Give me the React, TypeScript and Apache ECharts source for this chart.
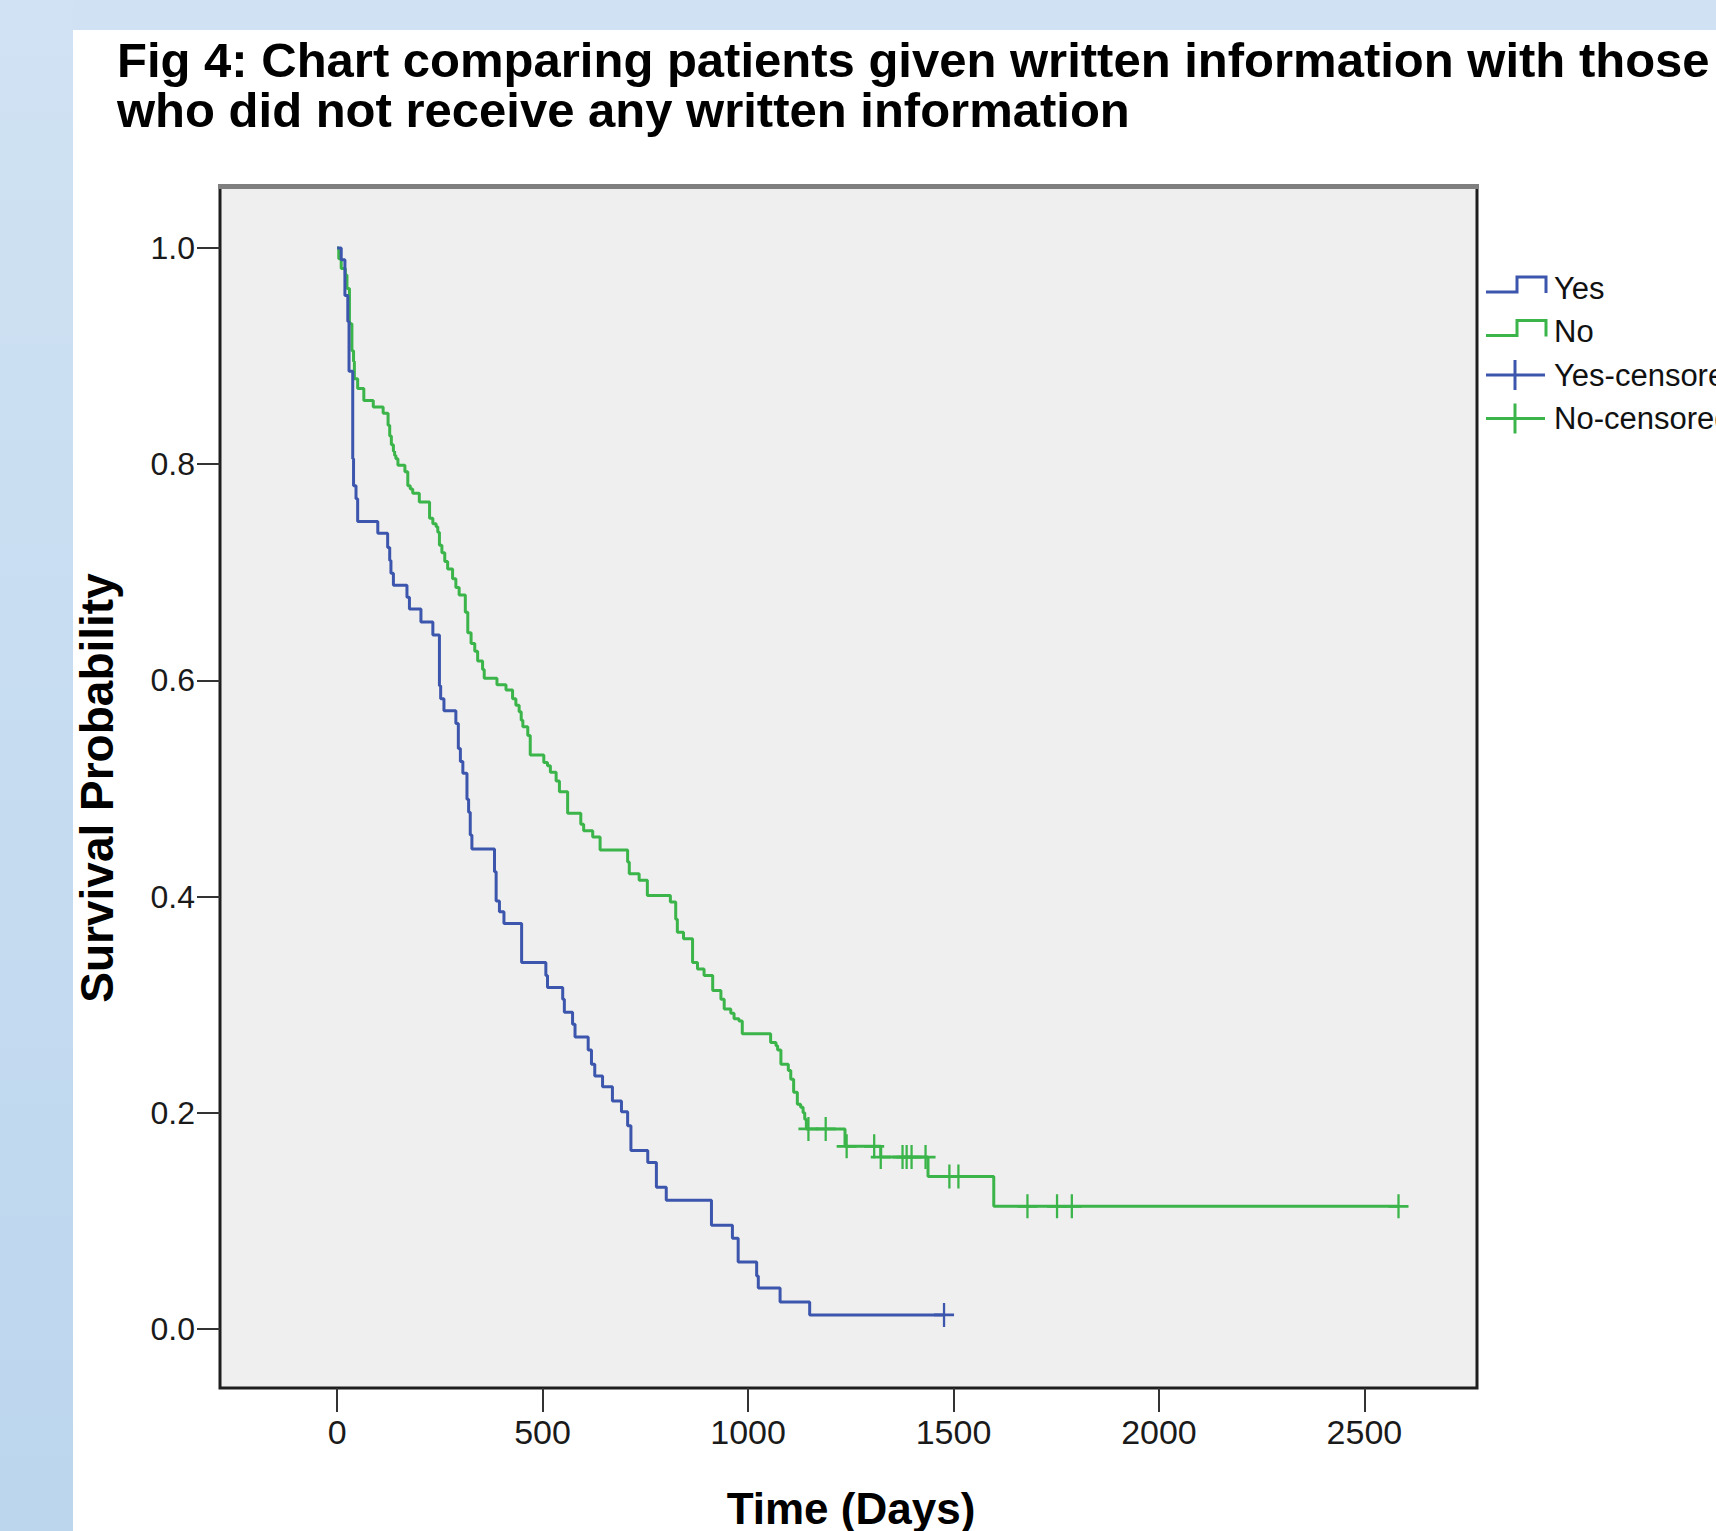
import React, { useEffect, useRef } from "react";
import * as echarts from "echarts";

// ---------- data ----------
const titleLines = [
  "Fig 4: Chart comparing patients given written information with those",
  "who did not receive any written information",
];
const xAxisTitle = "Time (Days)";
const yAxisTitle = "Survival Probability";
const legendLabels = ["Yes", "No", "Yes-censored", "No-censored"];

const xTicks = [0, 500, 1000, 1500, 2000, 2500];
const yTicks = [0, 0.2, 0.4, 0.6, 0.8, 1.0];

const yesDays = [
  0, 10, 19, 26, 29, 38, 40, 46, 50, 99, 123, 128, 131, 137, 170, 176, 204, 233, 249, 252, 260, 289, 295,
  300, 306, 316, 320, 324, 328, 383, 387, 395, 406, 449, 508, 512, 549, 553, 573, 579, 611, 619, 627, 646,
  670, 692, 707, 715, 756, 777, 801, 911, 962, 976, 1021, 1025, 1078, 1150, 1477,
];
const yesSurvival = [
  1.0, 0.989, 0.956, 0.932, 0.886, 0.805, 0.78, 0.768, 0.747, 0.736, 0.723, 0.711, 0.699, 0.688, 0.677,
  0.666, 0.654, 0.642, 0.595, 0.583, 0.572, 0.56, 0.537, 0.525, 0.514, 0.49, 0.478, 0.457, 0.444, 0.423,
  0.396, 0.386, 0.375, 0.339, 0.327, 0.316, 0.305, 0.293, 0.282, 0.27, 0.258, 0.245, 0.234, 0.224, 0.211,
  0.201, 0.188, 0.165, 0.154, 0.131, 0.119, 0.096, 0.084, 0.062, 0.049, 0.038, 0.025, 0.013, 0.013,
];

const noDays = [
  0, 4, 10, 20, 24, 30, 36, 40, 42, 50, 65, 88, 112, 124, 128, 132, 137, 140, 143, 148, 165, 172, 178, 184,
  200, 225, 233, 241, 245, 249, 255, 262, 269, 281, 289, 297, 312, 318, 326, 335, 342, 354, 358, 389, 411,
  427, 435, 443, 448, 452, 464, 470, 503, 512, 519, 533, 541, 561, 593, 600, 622, 640, 707, 711, 735, 755,
  811, 824, 828, 843, 865, 877, 893, 914, 934, 942, 958, 966, 978, 986, 1055, 1068, 1072, 1080, 1098, 1104,
  1111, 1120, 1128, 1134, 1138, 1142, 1236, 1323, 1438, 1598, 2583,
];
const noSurvival = [
  1.0, 0.99, 0.981, 0.975, 0.9625, 0.93, 0.905, 0.895, 0.879, 0.87, 0.859, 0.853, 0.847, 0.836, 0.826,
  0.818, 0.812, 0.808, 0.805, 0.799, 0.793, 0.78, 0.777, 0.773, 0.765, 0.75, 0.745, 0.742, 0.737, 0.725,
  0.718, 0.71, 0.703, 0.694, 0.686, 0.679, 0.663, 0.644, 0.634, 0.627, 0.618, 0.61, 0.602, 0.596, 0.591,
  0.583, 0.577, 0.571, 0.563, 0.557, 0.549, 0.531, 0.524, 0.521, 0.515, 0.507, 0.497, 0.477, 0.467, 0.461,
  0.455, 0.443, 0.432, 0.421, 0.415, 0.401, 0.395, 0.379, 0.367, 0.361, 0.339, 0.333, 0.327, 0.313, 0.305,
  0.296, 0.292, 0.287, 0.285, 0.273, 0.265, 0.262, 0.258, 0.245, 0.239, 0.231, 0.219, 0.208, 0.205, 0.2,
  0.194, 0.185, 0.169, 0.159, 0.141, 0.1135, 0.1135,
];

const yesCensoredDays = [1477];
const yesCensoredSurvival = [0.013];

const noCensoredDays = [1147, 1189, 1240, 1307, 1323, 1376, 1386, 1398, 1432, 1490, 1512, 1680, 1752, 1788, 2583];
const noCensoredSurvival = [
  0.185, 0.185, 0.169, 0.169, 0.159, 0.159, 0.159, 0.159, 0.159, 0.141, 0.141, 0.1135, 0.1135, 0.1135, 0.1135,
];

// ---------- styling ----------
const BLUE = "#3d56ad";
const GREEN = "#3bb54a";
const FONT = '"Liberation Sans", Arial, Helvetica, sans-serif';
const PLUS = "path://M0,12L20,12M10,0L10,24";

const zip = (a: number[], b: number[]) => a.map((v, i) => [v, b[i]]);

export default function App() {
  const ref = useRef<HTMLDivElement>(null);

  useEffect(() => {
    if (!ref.current) return;
    const chart = echarts.init(ref.current, null, { renderer: "svg", width: 1716, height: 1531 });

    const legendX = 1486;
    const legendY0 = 288;
    const legendStep = 43.5;
    const legendGraphics: any[] = [];
    legendLabels.forEach((label, i) => {
      const cy = legendY0 + i * legendStep;
      const color = i % 2 === 0 ? BLUE : GREEN;
      if (i < 2) {
        legendGraphics.push({
          type: "polyline",
          z: 100,
          shape: {
            points: [
              [legendX, cy + 4],
              [legendX + 31, cy + 4],
              [legendX + 31, cy - 11],
              [legendX + 60, cy - 11],
              [legendX + 60, cy + 5],
            ],
          },
          style: { stroke: color, lineWidth: 3, fill: "none" },
        });
      } else {
        legendGraphics.push({
          type: "line",
          z: 100,
          shape: { x1: legendX, y1: cy, x2: legendX + 59, y2: cy },
          style: { stroke: color, lineWidth: 3 },
        });
        legendGraphics.push({
          type: "line",
          z: 100,
          shape: { x1: legendX + 29, y1: cy - 15, x2: legendX + 29, y2: cy + 15 },
          style: { stroke: color, lineWidth: 3 },
        });
      }
      legendGraphics.push({
        type: "text",
        z: 100,
        x: legendX + 68,
        y: cy,
        style: {
          text: label,
          font: `31px ${FONT}`,
          fill: "#111",
          align: "left",
          verticalAlign: "middle",
        },
      });
    });

    const option: any = {
      animation: false,
      backgroundColor: "transparent",
      grid: {
        left: 220,
        top: 187,
        width: 1257,
        height: 1201,
        show: true,
        backgroundColor: "#efefef",
        borderColor: "#1e1e1e",
        borderWidth: 3,
        containLabel: false,
      },
      xAxis: {
        type: "value",
        min: -285,
        max: 2774,
        axisLine: { show: false, onZero: false },
        splitLine: { show: false },
        axisTick: {
          show: true,
          customValues: xTicks,
          length: 24,
          lineStyle: { color: "#333", width: 2 },
        },
        axisLabel: {
          customValues: xTicks,
          margin: 27,
          fontSize: 34,
          fontFamily: FONT,
          color: "#1a1a1a",
          formatter: (v: number) => String(v),
        },
      },
      yAxis: {
        type: "value",
        min: -0.0546,
        max: 1.0564,
        axisLine: { show: false, onZero: false },
        splitLine: { show: false },
        axisTick: {
          show: true,
          customValues: yTicks,
          length: 23,
          lineStyle: { color: "#333", width: 2 },
        },
        axisLabel: {
          customValues: yTicks,
          margin: 25,
          fontSize: 32,
          fontFamily: FONT,
          color: "#1a1a1a",
          formatter: (v: number) => v.toFixed(1),
        },
      },
      series: [
        {
          name: "No",
          type: "line",
          step: "end",
          data: zip(noDays, noSurvival),
          showSymbol: false,
          silent: true,
          lineStyle: { color: GREEN, width: 3 },
          itemStyle: { color: GREEN },
          z: 3,
        },
        {
          name: "Yes",
          type: "line",
          step: "end",
          data: zip(yesDays, yesSurvival),
          showSymbol: false,
          silent: true,
          lineStyle: { color: BLUE, width: 3 },
          itemStyle: { color: BLUE },
          z: 4,
        },
        {
          name: "No-censored",
          type: "scatter",
          data: zip(noCensoredDays, noCensoredSurvival),
          symbol: PLUS,
          symbolSize: [20, 24],
          silent: true,
          itemStyle: { color: GREEN, borderColor: GREEN, borderWidth: 2.5, opacity: 1 },
          z: 5,
        },
        {
          name: "Yes-censored",
          type: "scatter",
          data: zip(yesCensoredDays, yesCensoredSurvival),
          symbol: PLUS,
          symbolSize: [20, 24],
          silent: true,
          itemStyle: { color: BLUE, borderColor: BLUE, borderWidth: 2.5, opacity: 1 },
          z: 6,
        },
      ],
      graphic: [
        {
          type: "rect",
          z: 100,
          shape: { x: 218, y: 184, width: 1261, height: 5 },
          style: { fill: "#7f7f7f" },
        },
        {
          type: "text",
          z: 100,
          x: 117,
          y: 60,
          style: {
            text: titleLines[0],
            font: `bold 49px ${FONT}`,
            fill: "#000",
            align: "left",
            verticalAlign: "middle",
          },
        },
        {
          type: "text",
          z: 100,
          x: 117,
          y: 110,
          style: {
            text: titleLines[1],
            font: `bold 49px ${FONT}`,
            fill: "#000",
            align: "left",
            verticalAlign: "middle",
          },
        },
        {
          type: "text",
          z: 100,
          x: 97,
          y: 788,
          rotation: Math.PI / 2,
          style: {
            text: yAxisTitle,
            font: `bold 46px ${FONT}`,
            fill: "#000",
            align: "center",
            verticalAlign: "middle",
          },
        },
        {
          type: "text",
          z: 100,
          x: 851,
          y: 1508,
          style: {
            text: xAxisTitle,
            font: `bold 44px ${FONT}`,
            fill: "#000",
            align: "center",
            verticalAlign: "middle",
          },
        },
        ...legendGraphics,
      ],
    };

    chart.setOption(option);
    return () => chart.dispose();
  }, []);

  return (
    <div
      style={{
        position: "fixed",
        left: 0,
        top: 0,
        width: 1716,
        height: 1531,
        overflow: "hidden",
        background: "linear-gradient(to bottom, #d0e2f3, #bcd6ee)",
      }}
    >
      <div
        style={{
          position: "absolute",
          left: 73,
          top: 0,
          right: 0,
          height: 30,
          background: "#cfe1f2",
        }}
      />
      <div
        style={{
          position: "absolute",
          left: 73,
          top: 30,
          right: 0,
          bottom: 0,
          background: "#ffffff",
        }}
      />
      <div ref={ref} style={{ position: "absolute", left: 0, top: 0, width: 1716, height: 1531 }} />
    </div>
  );
}
